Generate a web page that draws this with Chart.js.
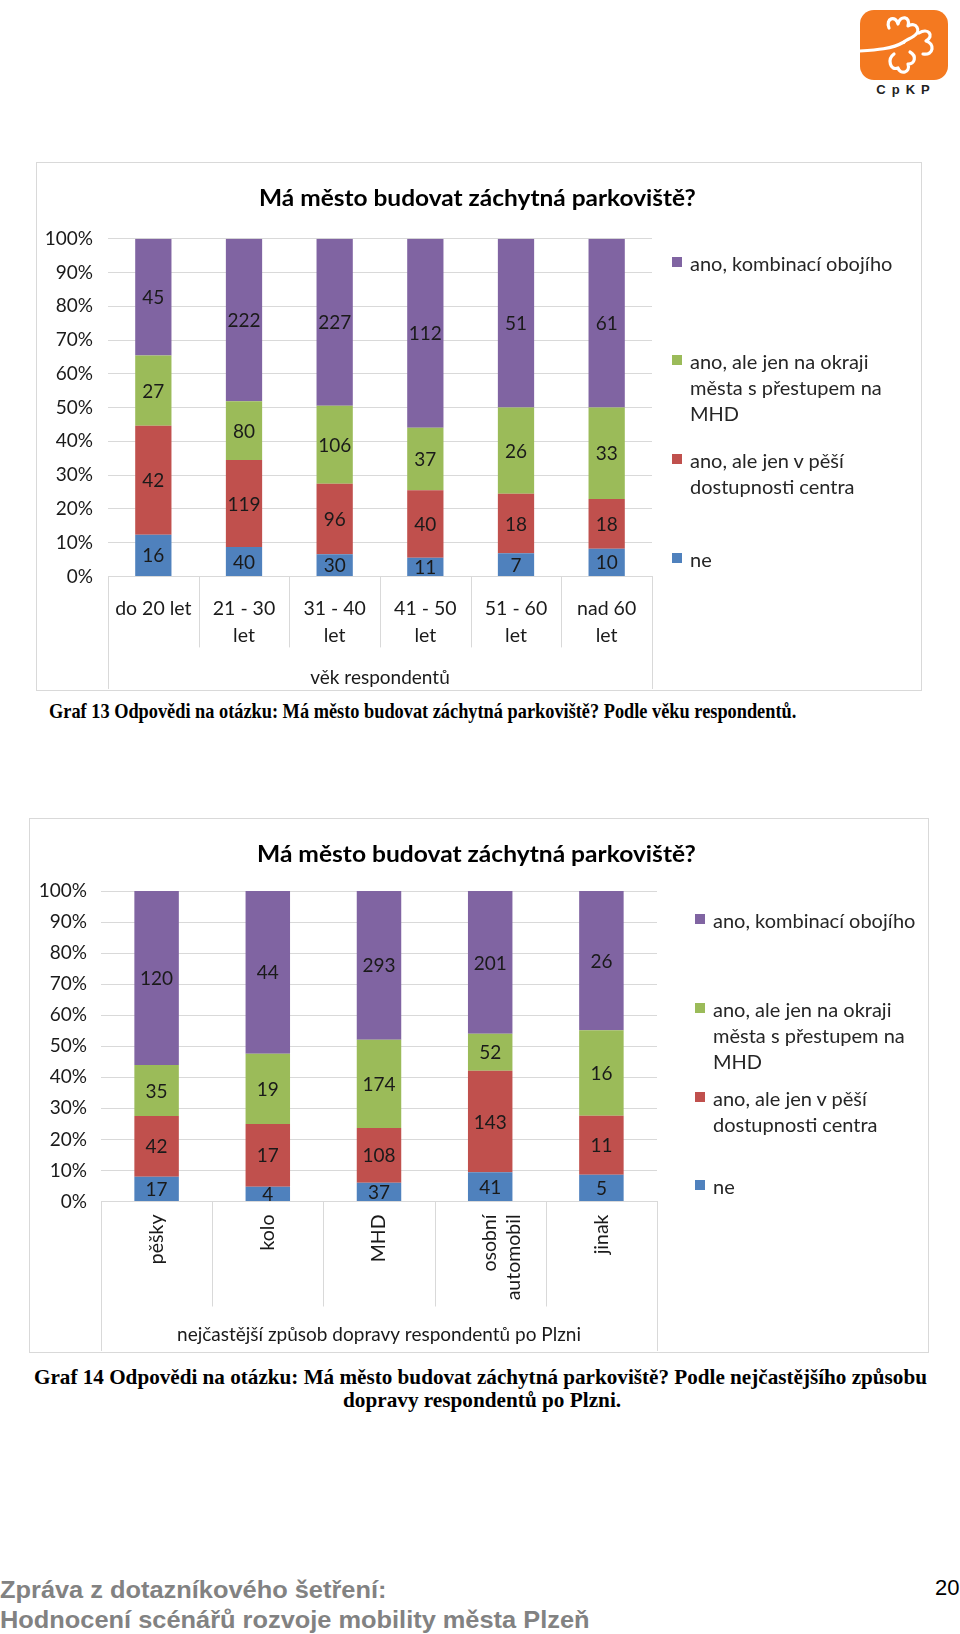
<!DOCTYPE html>
<html><head><meta charset="utf-8">
<script src="https://cdn.jsdelivr.net/npm/chart.js@4.4.1/dist/chart.umd.min.js"></script>
<style>
html,body{margin:0;padding:0;background:#fff;}
body{width:960px;height:1634px;position:relative;overflow:hidden;font-family:Lato,sans-serif;}
.abs{position:absolute;white-space:nowrap;}
.fit{position:absolute;white-space:nowrap;display:inline-block;transform-origin:0 0;line-height:1;}
.box{position:absolute;border:1px solid #d9d9d9;box-sizing:border-box;}
.ttl{font-family:Lato,sans-serif;font-weight:bold;font-size:22px;color:#000;}
.cap{font-family:"Liberation Serif",serif;font-weight:bold;font-size:22px;color:#000;}
.foot{font-family:"Liberation Sans",sans-serif;font-weight:bold;font-size:24px;color:#828282;}
.leg{position:absolute;font-family:Lato,sans-serif;font-size:20px;line-height:26px;color:#262626;white-space:nowrap;}
.sq{position:absolute;width:10px;height:10px;}
canvas{position:absolute;}
</style></head><body>

<svg class="abs" style="left:856px;top:6px" width="100" height="96" viewBox="0 0 100 96">
  <rect x="4" y="4" width="88" height="70" rx="14" fill="#f47920"/>
  <g fill="none" stroke="#fff" stroke-width="3.2" stroke-linecap="round" stroke-linejoin="round">
    <path d="M4 45 C 20 44, 36 43, 48 36"/>
    <path d="M33 22 C 29 12, 40 9, 42 18 C 44 9, 55 10, 52 20 C 60 15, 66 25, 58 30 C 54 33, 49 34, 48 36"/>
    <path d="M63 27 C 72 21, 79 30, 70 35 C 79 37, 78 50, 67 48"/>
    <path d="M38 48 C 31 53, 34 65, 42 62 C 44 69, 55 67, 52 58 C 59 58, 61 50, 54 46"/>
  </g>
  <text x="50" y="88" text-anchor="middle" font-family="Liberation Sans" font-weight="bold" font-size="13" letter-spacing="6" fill="#222">CpKP</text>
</svg>

<div class="box" style="left:36px;top:162px;width:886px;height:529px;"></div>
<canvas id="c1" width="885" height="528" style="left:36px;top:162px;"></canvas>
<div class="fit ttl" data-w="437" style="left:259px;top:187px;">Má město budovat záchytná parkoviště?</div>

<div class="sq" style="left:672px;top:257px;background:#8064A2"></div>
<div class="leg" style="left:690px;top:250px;">ano, kombinací obojího</div>
<div class="sq" style="left:672px;top:355px;background:#9BBB59"></div>
<div class="leg" style="left:690px;top:348px;">ano, ale jen na okraji<br>města s přestupem na<br>MHD</div>
<div class="sq" style="left:672px;top:454px;background:#C0504D"></div>
<div class="leg" style="left:690px;top:447px;">ano, ale jen v pěší<br>dostupnosti centra</div>
<div class="sq" style="left:672px;top:553px;background:#4F81BD"></div>
<div class="leg" style="left:690px;top:546px;">ne</div>

<div class="fit cap" data-w="747" style="left:49px;top:700px;">Graf 13 Odpovědi na otázku: Má město budovat záchytná parkoviště? Podle věku respondentů.</div>

<div class="box" style="left:29px;top:818px;width:900px;height:535px;"></div>
<canvas id="c2" width="899" height="534" style="left:29px;top:818px;"></canvas>
<div class="fit ttl" data-w="439" style="left:257px;top:843px;">Má město budovat záchytná parkoviště?</div>

<div class="sq" style="left:695px;top:914px;background:#8064A2"></div>
<div class="leg" style="left:713px;top:907px;">ano, kombinací obojího</div>
<div class="sq" style="left:695px;top:1003px;background:#9BBB59"></div>
<div class="leg" style="left:713px;top:996px;">ano, ale jen na okraji<br>města s přestupem na<br>MHD</div>
<div class="sq" style="left:695px;top:1092px;background:#C0504D"></div>
<div class="leg" style="left:713px;top:1085px;">ano, ale jen v pěší<br>dostupnosti centra</div>
<div class="sq" style="left:695px;top:1180px;background:#4F81BD"></div>
<div class="leg" style="left:713px;top:1173px;">ne</div>

<div class="fit cap" data-w="893" style="left:34px;top:1366px;">Graf 14 Odpovědi na otázku: Má město budovat záchytná parkoviště? Podle nejčastějšího způsobu</div>
<div class="fit cap" data-w="278" style="left:343px;top:1389px;">dopravy respondentů po Plzni.</div>

<div class="fit foot" data-w="386" style="left:0px;top:1578px;">Zpráva z dotazníkového šetření:</div>
<div class="fit foot" data-w="589" style="left:0px;top:1608px;">Hodnocení scénářů rozvoje mobility města Plzeň</div>
<div class="abs" style="left:935px;top:1577px;font-family:'Liberation Sans',sans-serif;font-size:22px;line-height:22px;color:#000;">20</div>

<script>
// ---- data ----
const seriesNames = ['ne', 'ano, ale jen v pěší dostupnosti centra', 'ano, ale jen na okraji města s přestupem na MHD', 'ano, kombinací obojího'];
const seriesColors = ['#4F81BD', '#C0504D', '#9BBB59', '#8064A2'];
const percentTickLabels = ['0%', '10%', '20%', '30%', '40%', '50%', '60%', '70%', '80%', '90%', '100%'];

const ageCategories = ['do 20 let', ['21 - 30', 'let'], ['31 - 40', 'let'], ['41 - 50', 'let'], ['51 - 60', 'let'], ['nad 60', 'let']];
const ageNe = [16, 40, 30, 11, 7, 10];
const agePesi = [42, 119, 96, 40, 18, 18];
const ageOkraj = [27, 80, 106, 37, 26, 33];
const ageKombinaci = [45, 222, 227, 112, 51, 61];

const modeCategories = ['pěšky', 'kolo', 'MHD', ['osobní', 'automobil'], 'jinak'];
const modeNe = [17, 4, 37, 41, 5];
const modePesi = [42, 17, 108, 143, 11];
const modeOkraj = [35, 19, 174, 52, 16];
const modeKombinaci = [120, 44, 293, 201, 26];

// ---- fit html text widths ----
document.querySelectorAll('.fit').forEach(el => {
  const w = parseFloat(el.dataset.w);
  const r = el.offsetWidth;
  if (r > 0) el.style.transform = 'scaleX(' + (w / r) + ')';
});

const GRID = '#d9d9d9';
const TXT = '#1a1a1a';

function buildDatasets(countsList) {
  const totals = countsList[0].map((_, j) => countsList.reduce((s, arr) => s + arr[j], 0));
  return countsList.map((arr, k) => ({
    label: seriesNames[k],
    counts: arr,
    data: arr.map((v, j) => v / totals[j] * 100),
    backgroundColor: seriesColors[k],
    borderWidth: 0,
    barPercentage: 0.4,
    categoryPercentage: 1
  }));
}

const countLabels = {
  id: 'countLabels',
  afterDatasetsDraw(chart) {
    const ctx = chart.ctx;
    ctx.save();
    ctx.font = '19px Lato';
    ctx.fillStyle = TXT;
    ctx.textAlign = 'center';
    ctx.textBaseline = 'middle';
    chart.data.datasets.forEach((ds, i) => {
      const meta = chart.getDatasetMeta(i);
      meta.data.forEach((bar, j) => {
        ctx.fillText(String(ds.counts[j]), bar.x, (bar.y + bar.base) / 2 + 1);
      });
    });
    ctx.restore();
  }
};

const separators = {
  id: 'separators',
  afterDraw(chart, args, opts) {
    const x = chart.scales.x;
    const n = chart.data.labels.length;
    const w = (x.right - x.left) / n;
    const ctx = chart.ctx;
    const b = chart.chartArea.bottom;
    ctx.save();
    ctx.strokeStyle = GRID;
    ctx.lineWidth = 1;
    for (let i = 0; i <= n; i++) {
      const px = Math.round(x.left + i * w) + 0.5;
      const end = (i === 0 || i === n) ? chart.height - 1 : b + opts.inner;
      ctx.beginPath();
      ctx.moveTo(px, b);
      ctx.lineTo(px, end);
      ctx.stroke();
    }
    ctx.restore();
  }
};

function makeChart(id, labels, countsList, o) {
  return new Chart(document.getElementById(id), {
    type: 'bar',
    data: { labels: labels, datasets: buildDatasets(countsList) },
    plugins: [countLabels, separators],
    options: {
      responsive: false,
      animation: false,
      devicePixelRatio: 1,
      layout: { padding: { top: o.top, right: o.right, bottom: 0, left: 0 } },
      plugins: {
        legend: { display: false },
        tooltip: { enabled: false },
        title: { display: false },
        separators: { inner: o.inner }
      },
      scales: {
        x: {
          stacked: true,
          grid: { display: false },
          border: { display: true, color: GRID },
          ticks: {
            color: TXT, font: { family: 'Lato', size: 19.5, lineHeight: o.tickLH / 19.5 },
            padding: o.tickPad, autoSkip: false,
            minRotation: o.rot, maxRotation: o.rot
          },
          title: {
            display: true, text: o.xTitle, color: TXT,
            font: { family: 'Lato', size: 19, lineHeight: 24 / 19 },
            padding: { top: 0, bottom: o.titlePad }
          },
          afterFit: s => { s.height = o.xHeight; }
        },
        y: {
          stacked: true, min: 0, max: 100,
          grid: { color: GRID, drawTicks: false },
          border: { display: false },
          ticks: {
            stepSize: 10, color: TXT, padding: o.yPad,
            font: { family: 'Lato', size: 19 },
            callback: (v, i) => percentTickLabels[i]
          },
          afterFit: s => { s.width = 72; }
        }
      }
    }
  });
}

makeChart('c1', ageCategories, [ageNe, agePesi, ageOkraj, ageKombinaci], {
  top: 76.7, right: 269, xHeight: 113.6, tickPad: 11, rot: 0, inner: 71, tickLH: 27,
  xTitle: 'věk respondentů', titlePad: 0, yPad: 15
});
makeChart('c2', modeCategories, [modeNe, modePesi, modeOkraj, modeKombinaci], {
  top: 73, right: 271, xHeight: 150.5, tickPad: 5, rot: 90, inner: 105, tickLH: 24,
  xTitle: 'nejčastější způsob dopravy respondentů po Plzni', titlePad: 5, yPad: 14
});
</script>
</body></html>
